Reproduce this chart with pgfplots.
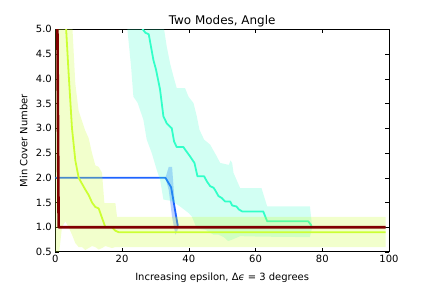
\documentclass[border=0pt]{standalone}
\usepackage{pgfplots}
\pgfplotsset{compat=1.18}
\usepackage{fontspec}
\setmainfont{DejaVu Sans}
\definecolor{cblue}{RGB}{30,100,255}
\definecolor{ccyan}{RGB}{50,255,200}
\definecolor{cyel}{RGB}{204,255,51}
\definecolor{cred}{RGB}{128,0,0}
\begin{document}
\begin{tikzpicture}
\useasboundingbox (0,0) rectangle (432bp,288bp);
\begin{axis}[
  at={(55.3bp,36bp)}, anchor=south west,
  scale only axis, width=333.7bp, height=222.7bp,
  xmin=0, xmax=100, ymin=0.5, ymax=5,
  xtick={0,20,...,100}, ytick={0.5,1,...,5},
  yticklabel style={/pgf/number format/.cd,fixed,fixed zerofill,precision=1},
  /pgf/number format/assume math mode=true,
  tick align=inside, tick pos=both, major tick length=4bp,
  tick style={black, line width=0.5bp},
  axis line style={line width=1bp},
  ticklabel style={font=\fontsize{10}{12}\selectfont},
  title={Two Modes, Angle},
  every axis title/.style={font=\fontsize{12}{14}\selectfont, at={(axis description cs:0.5,1.0238)}, anchor=base},
  xlabel={Increasing epsilon, Δ\textit{ϵ} = 3 degrees},
  ylabel={Min Cover Number},
  every axis x label/.style={font=\fontsize{10}{12}\selectfont, at={(axis description cs:0.5,-0.1302)}, anchor=base},
  every axis y label/.style={font=\fontsize{10}{12}\selectfont, at={(axis description cs:-0.0839,0.5)}, rotate=90, anchor=base},
  line join=round,
]
% blue band
\addplot[fill=cblue, fill opacity=0.3, draw=none] coordinates {
(33,2.0) (34,2.22) (35,2.22) (36,1.3) (37,1.02) (36.4,0.9) (36,0.85) (35,1.2) (34,1.75) (33,2.0)} -- cycle;
% blue line
\addplot[cblue, line width=1.8bp] coordinates {(0,2.0) (33,2.0) (34.7,1.81) (36.7,1.03)};
% cyan band
\addplot[fill=ccyan, fill opacity=0.22, draw=none] coordinates {
(20,12) (30,6.5) (32.6,5) (33.4,4.65) (34.4,4.31) (35.4,4.05) (36.4,3.81) (38.9,3.81) (39.9,3.64) (41.4,3.51) (42.4,3.24) (43.2,2.97) (44.6,2.77) (46.4,2.67) (48.4,2.43) (49.4,2.3) (52,2.26) (52.5,2.35) (53,2.3) (53.4,2.1) (55.4,1.79) (61.8,1.79) (63.5,1.42) (76.3,1.42) (77,1.0)
(76.3,0.8) (62,0.81) (55.4,0.82) (53,0.75) (51.8,0.72) (50.5,0.8) (48.9,0.85) (47.4,0.85) (45,0.95) (42.4,0.97) (40.9,1.22) (39.9,1.29) (37.4,1.42) (34.9,1.53) (32.4,1.56) (31.4,1.96) (30.4,2.16) (28.9,2.5) (27.4,2.77) (26.4,3.17) (25.4,3.37) (24.7,3.51) (23.4,3.64) (22.7,4.25) (21.6,5.0) (20,8)} -- cycle;
% cyan line
\addplot[ccyan, line width=1.8bp] coordinates {
(25,6) (26.2,5.0) (27,4.93) (28,4.9) (29.4,4.38) (30.2,4.18) (31.4,3.78) (32.4,3.24) (33.4,3.1) (34.9,3.0) (35.6,2.73) (36.4,2.62) (38.4,2.62) (38.9,2.57) (40.4,2.43) (41.7,2.3) (42.6,2.03) (44.6,2.03) (45.4,1.93) (46.4,1.83) (47.4,1.8) (47.9,1.75) (48.9,1.63) (49.9,1.59) (50.9,1.52) (52.4,1.52) (53,1.44) (54.3,1.42) (55,1.36) (56,1.32) (62.3,1.32) (63.5,1.12) (75.8,1.12) (76.8,1.03)};
% yellow band
\addplot[fill=cyel, fill opacity=0.25, draw=none] coordinates {
(0,40) (3,12) (4,8) (5,5.2) (6,3.9) (7,3.35) (8,3.15) (9,2.95) (10,2.8) (11,2.5) (12,2.25) (13,2.22) (14,2.1) (14.7,1.49) (18,1.49) (18.5,1.21) (99,1.21)
(99,0.6) (18,0.6) (17,0.58) (16,0.6) (15,0.62) (14,0.58) (13,0.55) (12,0.6) (11,0.62) (10,0.58) (9,0.54) (8,0.6) (7,0.6) (6,0.68) (5,0.85) (4,1.0) (3,1.12) (2,1.0) (1,0.4) (0,0.3)} -- cycle;
% yellow line
\addplot[cyel, line width=1.8bp] coordinates {
(0,25) (1,14) (2,8) (3,5.3) (4,4.1) (5,3.0) (6,2.35) (7,2.0) (8,1.88) (9,1.76) (10,1.65) (11,1.5) (12,1.41) (13,1.38) (14,1.19) (15,1.0) (16,1.0) (17,1.0) (18,0.93) (19,0.9) (99,0.9)};
% red line
\addplot[cred, line width=2.6bp] coordinates {(0,12) (1,1) (99,1)};
\end{axis}
\end{tikzpicture}
\end{document}
